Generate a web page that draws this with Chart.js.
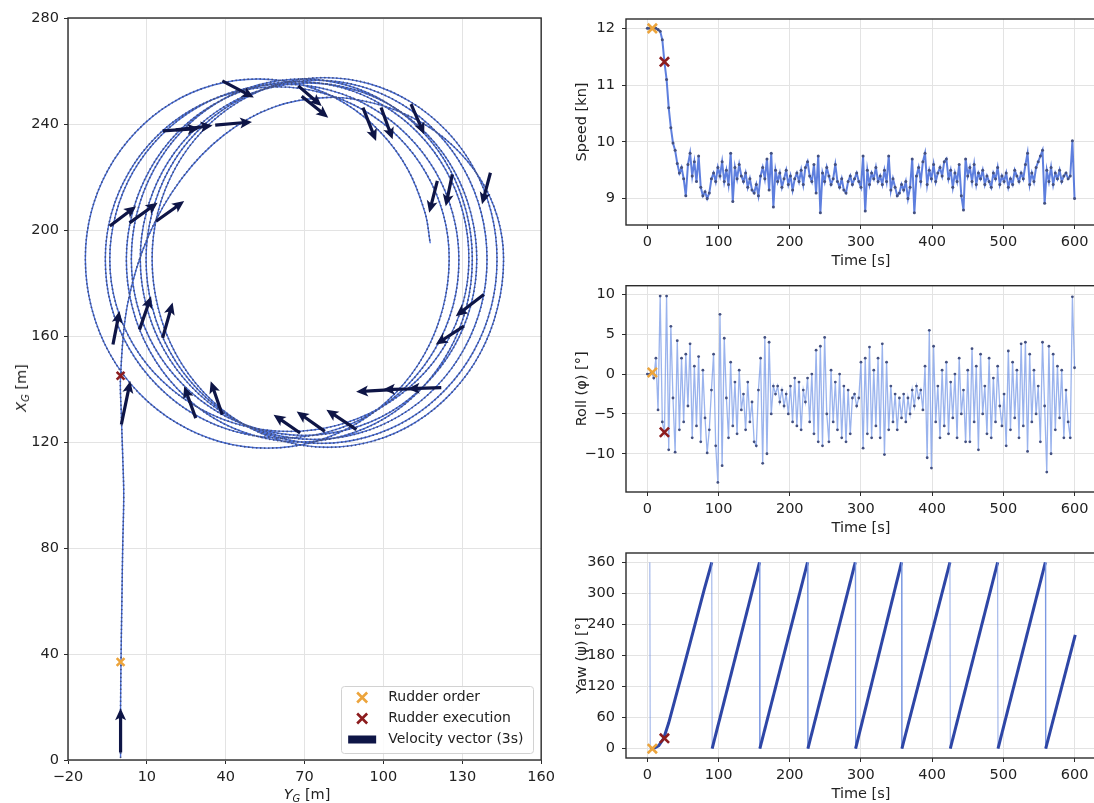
<!DOCTYPE html>
<html>
<head>
<meta charset="utf-8">
<script src="https://cdn.jsdelivr.net/npm/chart.js@4.4.1/dist/chart.umd.min.js"></script>
<style>
  html, body { margin: 0; padding: 0; background: #fff; width: 1094px; height: 803px; overflow: hidden; }
  canvas { position: absolute; }
  .axlabel { position: absolute; font-family: 'DejaVu Sans', sans-serif; font-size: 14.5px; color: #222;
             white-space: nowrap; transform: translate(-50%, -50%); }
  .axlabel sub { font-size: 10px; vertical-align: -3px; }
</style>
</head>
<body>
<canvas id="track" width="560" height="803" style="left:0;top:0"></canvas>
<canvas id="speed" width="545" height="270" style="left:560px;top:0"></canvas>
<canvas id="roll" width="545" height="267" style="left:560px;top:270px"></canvas>
<canvas id="yaw" width="545" height="266" style="left:560px;top:537px"></canvas>
<div class="axlabel" style="left:307px;top:795px"><i>Y</i><sub><i>G</i></sub> [m]</div>
<div class="axlabel" style="left:22px;top:388px;transform:translate(-50%,-50%) rotate(-90deg)"><i>X</i><sub><i>G</i></sub> [m]</div>
<script>
// ---- data ----
// trajectory, [Y_G, X_G] in metres
var approach = [[0,1],[0,20],[0.2,40],[0.5,60],[0.8,80],[1.2,100],[0.8,115],[0.3,130],[0,145]];
var turns = [
  [2.7,172.2],[10.5,197.5],[23.1,219.2],[39.4,235.9],[58.3,246.4],[78.7,250],[96.1,247.9],[112.2,241.8],[126.1,232.1],[136.7,219.5],[143.4,204.8],[145.7,189],
  [143.4,170.6],[136.8,153.5],[126.1,138.8],[112.3,127.5],[96.2,120.4],[78.9,118],[61.6,120.4],[45.4,127.5],[31.6,138.8],[20.9,153.5],[14.3,170.6],[12.0,189],
  [14.2,206.7],[20.8,223.3],[31.2,237.4],[44.8,248.3],[60.6,255.2],[77.6,257.5],[94.6,255.2],[110.4,248.3],[124.0,237.4],[134.4,223.3],[141.0,206.7],[143.2,189],
  [141.0,171.0],[134.3,154.2],[123.7,139.9],[109.9,128.8],[93.8,121.9],[76.5,119.5],[59.2,121.9],[43.1,128.8],[29.3,139.9],[18.7,154.2],[12.0,171.0],[9.7,189],
  [12.0,206.5],[18.4,222.8],[28.7,236.7],[42.2,247.5],[57.8,254.2],[74.6,256.5],[91.4,254.2],[106.9,247.5],[120.4,236.7],[130.7,222.8],[137.2,206.5],[139.4,189],
  [137.2,171.4],[130.6,155],[120.1,140.9],[106.5,130.1],[90.6,123.3],[73.5,121],[56.4,123.3],[40.5,130.1],[26.9,140.9],[16.4,155],[9.8,171.4],[7.5,189],
  [9.7,206.2],[16.1,222.3],[26.3,236],[39.5,246.6],[54.9,253.2],[71.5,255.5],[88.1,253.2],[103.5,246.6],[116.7,236],[126.9,222.3],[133.3,206.2],[135.5,189],
  [133.3,171.8],[126.7,155.7],[116.2,142],[102.7,131.4],[86.8,124.8],[69.8,122.5],[52.8,124.8],[36.9,131.4],[23.4,142],[12.9,155.7],[6.3,171.8],[4.1,189],
  [6.3,206.6],[12.8,223],[23.1,237.1],[36.5,247.9],[52.2,254.7],[69.0,257],[85.8,254.7],[101.4,247.9],[114.9,237.1],[125.2,223],[131.6,206.6],[133.8,189],
  [131.6,171.1],[125,154.5],[114.5,140.2],[100.9,129.2],[85,122.4],[68,120],[51,122.4],[35.1,129.2],[21.5,140.2],[11,154.5],[4.4,171.1],[2.2,189],
  [4.5,206.4],[11,222.5],[21.3,236.4],[34.8,247],[50.5,253.7],[67.4,256],[84.2,253.7],[99.9,247],[113.4,236.4],[123.8,222.5],[130.3,206.4],[132.5,189],
  [130.2,172.2],[123.4,156.5],[112.5,143],[98.4,132.7],[81.9,126.2],[64.2,124],[46.5,126.2],[30,132.7],[15.9,143],[5,156.5],[-1.8,172.2],[-4.1,189],
  [-1.8,206.1],[4.8,222],[15.4,235.7],[29.1,246.2],[45.1,252.8],[62.3,255],[79.5,252.8],[95.5,246.2],[109.2,235.7],[119.8,222],[126.4,206.1],[128.7,189],
  [126.5,171.5],[119.7,155.2],[109,141.3],[95.1,130.5],[78.9,123.8],[61.5,121.5],[44.1,123.8],[27.9,130.5],[14,141.3],[3.3,155.2],[-3.6,171.5],[-5.8,189],
  [-3.6,205.8],[3,221.5],[13.4,235],[26.9,245.3],[42.7,251.8],[59.6,254],[76.5,251.8],[92.3,245.3],[105.8,235],[116.2,221.5],[122.8,205.8],[125,189],
  [122.6,170.5],[115.7,153.3],[104.7,138.6],[90.4,127.3],[73.7,120.1],[55.8,117.7],[37.9,120.1],[21.2,127.3],[6.9,138.6],[-4.1,153.3],[-11,170.5],[-13.4,189],
  [-11.2,206.6],[-4.6,223],[5.9,237.1],[19.4,247.9],[35.3,254.7],[52.3,257],[69.3,254.7],[85.2,247.9],[98.7,237.1],[109.2,223],[115.8,206.6],[117.8,195]
];
// velocity vectors: tail and tip, [Y_G, X_G]
var velTail = [[0,2.8],[0.3,126.6],[-2.9,156.8],[7.2,162.4],[16,159.3],[-4.1,201.5],[3.4,202.7],[13.5,203.3],
  [16,237.4],[21,237.8],[36,239.6],[38.7,256.3],[67.6,254.4],[68.9,250.5],[92.2,246.2],[99.1,246.2],[110.5,247.5],
  [120.5,218.5],[126.2,221],[140.7,221.6],[138.2,175.7],[130.6,163.7],[122,140.5],[113,140.1],[103.5,139.8],
  [28.6,129],[38.7,130.3],[68.3,123.4],[77.7,124],[89.7,124.7]];
var velTip = [[0,19.5],[3.7,143],[-0.4,169.4],[11.6,175],[19.8,172.6],[5.9,209],[14.1,210.3],[24.2,210.9],
  [30,238.3],[35,239.4],[50,240.8],[50.7,250],[76.5,246.8],[79,242.4],[97.2,233.6],[103.5,234.2],[115.5,236.1],
  [117.4,206.5],[123.7,209],[137.5,209.7],[127.5,167.5],[119.9,156.8],[109.2,140.1],[99.8,139.8],[89.6,139],
  [24.2,141],[34.3,142.9],[58.2,130.3],[67,131.5],[78.3,132.2]];

var orderPos = [0, 37], execPos = [0, 145];
var orderT = 7, execT = 24;
var orderVals = [12.0, 0.2, 0];     // speed, roll, yaw at rudder order
var execVals = [11.41, -7.3, 20];   // speed, roll, yaw at rudder execution

var dt = 3; // sampling step of the two series below [s]
var speedVals = [
  12.00,12.00,12.00,12.00,12.00,11.98,11.95,11.80,11.40,11.10,
  10.60,10.25,9.98,9.85,9.62,9.45,9.55,9.35,9.05,9.60,
  9.80,9.40,9.65,9.30,9.75,9.20,9.05,9.12,9.00,9.10,
  9.35,9.45,9.30,9.55,9.40,9.65,9.30,9.50,9.25,9.80,
  8.95,9.55,9.35,9.60,9.40,9.30,9.45,9.20,9.35,9.15,
  9.10,9.25,9.05,9.40,9.55,9.35,9.70,9.15,9.80,8.85,
  9.50,9.30,9.45,9.20,9.35,9.50,9.25,9.40,9.15,9.35,
  9.45,9.30,9.50,9.25,9.55,9.65,9.40,9.30,9.60,9.10,
  9.75,8.75,9.45,9.30,9.55,9.40,9.25,9.35,9.60,9.30,
  9.20,9.35,9.15,9.10,9.30,9.40,9.25,9.35,9.45,9.30,
  9.20,9.75,8.78,9.50,9.25,9.45,9.35,9.55,9.30,9.40,
  9.25,9.50,9.30,9.75,9.15,9.35,9.20,9.05,9.10,9.25,
  9.15,9.30,9.00,9.20,9.70,8.75,9.40,9.55,9.30,9.65,
  9.80,9.25,9.50,9.35,9.60,9.30,9.45,9.55,9.40,9.65,
  9.70,9.35,9.50,9.20,9.45,9.30,9.60,9.05,8.80,9.70,
  9.40,9.55,9.30,9.60,9.25,9.45,9.35,9.50,9.25,9.40,
  9.30,9.20,9.45,9.35,9.55,9.25,9.40,9.30,9.45,9.20,
  9.35,9.25,9.50,9.40,9.30,9.45,9.35,9.60,9.80,9.25,
  9.45,9.30,9.55,9.65,9.75,9.85,8.92,9.50,9.30,9.55,
  9.25,9.45,9.35,9.50,9.30,9.40,9.45,9.35,9.40,10.02,
  9.00
];
var rollVals = [
  0.0,0.0,0.2,-0.5,2.0,-4.5,9.8,-6.0,-7.3,9.8,
  -9.5,6.0,-3.0,-9.8,4.2,-7.0,2.0,-6.0,2.5,-4.0,
  3.8,-8.0,1.0,-6.5,2.2,-8.5,0.5,-5.5,-9.9,-7.0,
  -2.0,2.5,-9.0,-13.6,7.5,-11.5,4.5,-3.0,-8.0,1.5,
  -6.5,-1.0,-7.5,0.5,-4.5,-2.5,-7.0,-1.0,-6.0,-3.5,
  -8.5,-9.0,-2.0,2.0,-11.2,4.6,-10.0,4.0,-5.0,-1.5,
  -2.5,-1.5,-3.5,-2.0,-4.0,-2.5,-5.0,-1.5,-6.0,-0.5,
  -6.5,-1.0,-7.0,-2.0,-3.5,-0.5,-6.0,0.0,-7.5,3.0,
  -8.5,3.5,-9.0,4.6,-5.0,-8.5,0.5,-6.0,-1.0,-7.0,
  0.0,-8.0,-1.5,-8.5,-2.0,-7.5,-3.0,-2.5,-4.0,-3.0,
  1.5,-9.3,2.0,-7.5,3.4,-8.0,0.5,-6.5,2.0,-8.0,
  3.8,-10.1,1.5,-7.0,-1.5,-6.0,-2.5,-7.0,-3.0,-5.5,
  -2.5,-6.0,-3.0,-5.0,-2.0,-4.0,-1.5,-3.0,-2.0,-4.5,
  1.0,-10.5,5.5,-11.8,3.5,-6.0,-1.5,-8.0,0.5,-6.5,
  1.5,-7.5,-1.0,-5.5,0.0,-8.0,2.0,-5.0,-2.0,-8.5,
  0.5,-8.5,3.2,-6.0,1.0,-9.5,2.5,-5.0,-1.5,-7.5,
  2.0,-8.0,-0.5,-6.0,1.0,-4.0,-6.5,-2.5,-9.0,2.9,
  -7.0,1.5,-5.5,0.5,-8.0,3.8,-6.5,4.0,-9.7,2.5,
  -6.0,0.5,-5.0,-1.5,-8.5,4.0,-4.0,-12.3,3.5,-10.0,
  2.5,-7.0,1.0,-5.5,0.5,-8.0,-2.0,-6.0,-8.0,9.7,
  0.8
];
// yaw sawtooth: times and values at the corners
var yawT = [3.5,4,10,16,23,30,40,50,60,70,80,90.5,91,157.5,158,225,225.5,292,292.5,357,357.5,425,425.5,492,492.5,559,559.5,601];
var yawV = [360,0,1,6,20,50,101,152,204,256,308,360,0,360,0,360,0,360,0,360,0,360,0,360,0,360,0,220];

var posXTicks = [-20,10,40,70,100,130,160];
var posYTicks = [0,40,80,120,160,200,240,280];
var timeTicks = [0,100,200,300,400,500,600];
var speedTicks = [9,10,11,12];
var rollTicks = [-10,-5,0,5,10];
var yawTicks = [0,60,120,180,240,300,360];
var legendLabels = ['Rudder order', 'Rudder execution', 'Velocity vector (3s)'];

// ---- styles ----
var ORANGE = '#eca43c', DARKRED = '#8c1c1e', NAVY = '#0e1546';
var LINE = '#4a70dc', DOT = '#435080', GRID = '#e3e3e3', FRAME = '#2b2b2b';

Chart.defaults.font.family = "'DejaVu Sans', sans-serif";
Chart.defaults.font.size = 14.5;
Chart.defaults.color = '#222';
Chart.defaults.animation = false;
Chart.defaults.plugins.legend.display = false;
Chart.defaults.plugins.tooltip.enabled = false;

function fmt(v) { return v < 0 ? '\u2212' + Math.abs(v) : String(v); }

function axis(min, max, ticks, size, pad, title, titlePad) {
  var horiz = size.h !== undefined;
  return {
    type: 'linear', min: min, max: max,
    afterBuildTicks: function(s) { s.ticks = ticks.map(function(v) { return {value: v}; }); },
    afterFit: function(s) { if (horiz) s.height = size.h; else s.width = size.w; },
    grid: {color: GRID, tickColor: FRAME, tickLength: 4, lineWidth: 1},
    border: {display: false},
    ticks: {padding: pad, callback: fmt, maxRotation: 0, autoSkip: false},
    title: {display: !!title, text: title || '', padding: titlePad || 0}
  };
}

var framePlugin = {
  id: 'frame',
  afterDraw: function(chart) {
    var a = chart.chartArea, c = chart.ctx;
    c.save();
    c.strokeStyle = FRAME;
    c.lineWidth = 1.4;
    c.strokeRect(a.left, a.top, a.right - a.left, a.bottom - a.top);
    c.restore();
  }
};

function marker(color, pts, r) {
  return {data: pts, pointStyle: 'crossRot', pointRadius: r, borderColor: color,
          pointBorderWidth: 2.6, showLine: false, order: 0};
}

// ---- trajectory ----
var arrowPlugin = {
  id: 'velocityArrows',
  afterDatasetsDraw: function(chart) {
    var c = chart.ctx, sx = chart.scales.x, sy = chart.scales.y;
    c.save();
    c.fillStyle = NAVY;
    velTail.forEach(function(t, i) {
      var h = velTip[i];
      var x0 = sx.getPixelForValue(t[0]), y0 = sy.getPixelForValue(t[1]);
      var x1 = sx.getPixelForValue(h[0]), y1 = sy.getPixelForValue(h[1]);
      var len = Math.hypot(x1 - x0, y1 - y0);
      var hl = 12, hw = 5.5, sw = 1.6;
      c.setTransform(1, 0, 0, 1, x0, y0);
      c.rotate(Math.atan2(y1 - y0, x1 - x0));
      c.beginPath();
      c.moveTo(0, -sw); c.lineTo(len - hl + 2, -sw); c.lineTo(len - hl, -hw);
      c.lineTo(len, 0);
      c.lineTo(len - hl, hw); c.lineTo(len - hl + 2, sw); c.lineTo(0, sw);
      c.closePath();
      c.fill();
    });
    c.restore();
  }
};

var legendPlugin = {
  id: 'boxLegend',
  afterDraw: function(chart) {
    var c = chart.ctx, a = chart.chartArea;
    var w = 192, h = 67;
    var x0 = a.right - 8 - w, y0 = a.bottom - 7 - h;
    c.save();
    c.fillStyle = 'rgba(255,255,255,0.85)';
    c.strokeStyle = '#d2d2d2';
    c.lineWidth = 1;
    c.beginPath();
    c.roundRect(Math.round(x0) + 0.5, Math.round(y0) + 0.5, w, h, 3);
    c.fill(); c.stroke();
    c.font = "14px 'DejaVu Sans', sans-serif";
    c.textBaseline = 'middle';
    var colors = [ORANGE, DARKRED, NAVY];
    legendLabels.forEach(function(label, i) {
      var cy = y0 + 11.5 + i * 21, cx = x0 + 21;
      if (i < 2) {
        c.strokeStyle = colors[i]; c.lineWidth = 2.6;
        c.beginPath();
        c.moveTo(cx - 5, cy - 5); c.lineTo(cx + 5, cy + 5);
        c.moveTo(cx - 5, cy + 5); c.lineTo(cx + 5, cy - 5);
        c.stroke();
      } else {
        c.fillStyle = colors[i];
        c.fillRect(x0 + 7, cy - 4, 28, 8);
      }
      c.fillStyle = '#222';
      c.fillText(label, x0 + 47, cy);
    });
    c.restore();
  }
};

var track = approach.concat(turns).map(function(p) { return {x: p[0], y: p[1]}; });

new Chart(document.getElementById('track'), {
  type: 'scatter',
  data: {datasets: [
    marker(ORANGE, [{x: orderPos[0], y: orderPos[1]}], 5.5),
    marker(DARKRED, [{x: execPos[0], y: execPos[1]}], 5.5),
    {data: track, showLine: true, tension: 0.35, pointRadius: 0, borderColor: DOT,
     borderWidth: 1.8, borderDash: [0, 4], borderCapStyle: 'round', order: 1},
    {data: track, showLine: true, tension: 0.35, pointRadius: 0, borderColor: LINE,
     borderWidth: 1.4, order: 2}
  ]},
  options: {
    responsive: false,
    layout: {padding: {top: 18, right: 15, left: 0, bottom: 0}},
    scales: {
      x: axis(-20, 160, posXTicks, {h: 43}, 5),
      y: axis(0, 280, posYTicks, {w: 68}, 5)
    }
  },
  plugins: [arrowPlugin, framePlugin, legendPlugin]
});

// ---- time series ----
function timeChart(id, top, pts, yMin, yMax, yTicks, yTitle, k, lineOpts) {
  var series = Object.assign({data: pts, showLine: true, order: 1, tension: 0}, lineOpts);
  return new Chart(document.getElementById(id), {
    type: 'scatter',
    data: {datasets: [
      marker(ORANGE, [{x: orderT, y: orderVals[k]}], 6.5),
      marker(DARKRED, [{x: execT, y: execVals[k]}], 6.5),
      series
    ]},
    options: {
      responsive: false,
      layout: {padding: {top: top, right: 5, left: 0, bottom: 0}},
      scales: {
        x: axis(-30, 630, timeTicks, {h: 45}, 5, 'Time [s]', {top: 0, bottom: 0}),
        y: axis(yMin, yMax, yTicks, {w: 66}, 7, yTitle, {top: 14, bottom: 0})
      }
    },
    plugins: [framePlugin]
  });
}

function sampled(vals) { return vals.map(function(v, i) { return {x: i * dt, y: v}; }); }

timeChart('speed', 19, sampled(speedVals), 8.535, 12.165, speedTicks, 'Speed [kn]', 0, {
  pointRadius: 1.5, pointBackgroundColor: DOT, pointBorderWidth: 0,
  borderColor: 'rgba(66,104,216,0.85)', borderWidth: 2});
timeChart('roll', 15, sampled(rollVals), -14.8, 11.1, rollTicks, 'Roll (\u03c6) [\u00b0]', 1, {
  pointRadius: 1.4, pointBackgroundColor: DOT, pointBorderWidth: 0,
  borderColor: 'rgba(100,138,228,0.65)', borderWidth: 1.3});

var RAMP = '#2e46a6', DROP = 'rgba(120,150,225,0.8)';
function isDrop(s) { return s.p1.parsed.y < s.p0.parsed.y; }
var yawPts = yawT.map(function(t, i) { return {x: t, y: yawV[i]}; });
timeChart('yaw', 16, yawPts, -18, 378, yawTicks, 'Yaw (\u03c8) [\u00b0]', 2, {
  pointRadius: 0, borderColor: RAMP, borderWidth: 3,
  segment: {
    borderColor: function(s) { return isDrop(s) ? DROP : RAMP; },
    borderWidth: function(s) { return isDrop(s) ? 1 : 3; }
  }
});
</script>
</body>
</html>
